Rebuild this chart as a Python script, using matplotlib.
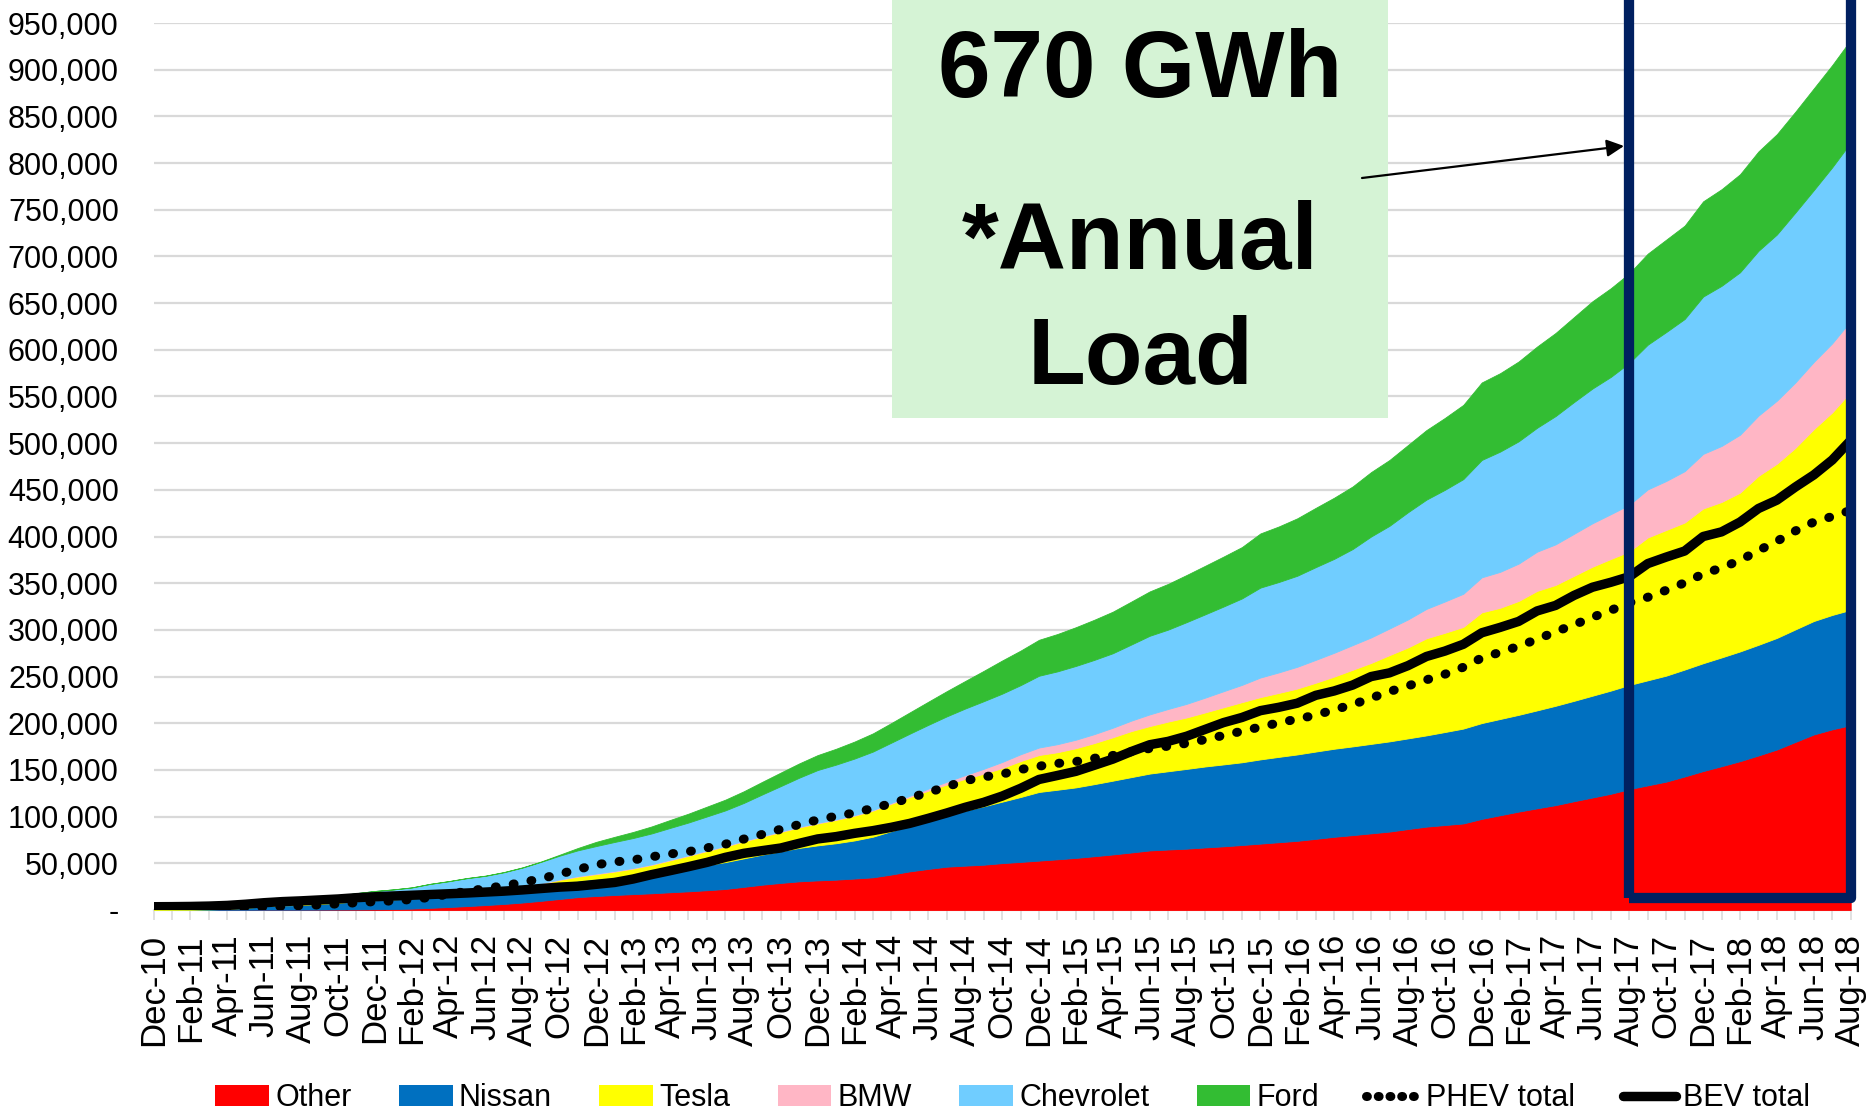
import numpy as np
import matplotlib
matplotlib.use("Agg")
import matplotlib.pyplot as plt
from matplotlib.patches import Rectangle, Patch, FancyArrowPatch
from matplotlib.lines import Line2D

plt.rcParams['font.family'] = ['Liberation Sans', 'DejaVu Sans']

# ---------------- data (vehicles, thousands) ----------------
months = ["Dec-10",
          "Jan-11", "Feb-11", "Mar-11", "Apr-11", "May-11", "Jun-11", "Jul-11", "Aug-11", "Sep-11", "Oct-11", "Nov-11", "Dec-11",
          "Jan-12", "Feb-12", "Mar-12", "Apr-12", "May-12", "Jun-12", "Jul-12", "Aug-12", "Sep-12", "Oct-12", "Nov-12", "Dec-12",
          "Jan-13", "Feb-13", "Mar-13", "Apr-13", "May-13", "Jun-13", "Jul-13", "Aug-13", "Sep-13", "Oct-13", "Nov-13", "Dec-13",
          "Jan-14", "Feb-14", "Mar-14", "Apr-14", "May-14", "Jun-14", "Jul-14", "Aug-14", "Sep-14", "Oct-14", "Nov-14", "Dec-14",
          "Jan-15", "Feb-15", "Mar-15", "Apr-15", "May-15", "Jun-15", "Jul-15", "Aug-15", "Sep-15", "Oct-15", "Nov-15", "Dec-15",
          "Jan-16", "Feb-16", "Mar-16", "Apr-16", "May-16", "Jun-16", "Jul-16", "Aug-16", "Sep-16", "Oct-16", "Nov-16", "Dec-16",
          "Jan-17", "Feb-17", "Mar-17", "Apr-17", "May-17", "Jun-17", "Jul-17", "Aug-17", "Sep-17", "Oct-17", "Nov-17", "Dec-17",
          "Jan-18", "Feb-18", "Mar-18", "Apr-18", "May-18", "Jun-18", "Jul-18", "Aug-18"]

other = [0.1, 0.1, 0.1, 0.2, 0.2, 0.2, 0.3, 0.3, 0.3, 0.4, 0.5,
         0.6, 0.8, 1.0, 1.5, 2.3, 3.2, 4.2, 5.3, 6.5, 8.0, 9.8, 11.8,
         13.8, 15.0, 16.1, 17.0, 17.9, 19.0, 20.0, 21.2, 22.5, 24.8, 27.1, 29.0, 30.7,
         31.7, 32.5, 33.7, 35.0, 38.0, 41.4, 44.0, 46.4, 47.5, 48.5, 50.2,
         51.5, 52.9, 54.3, 55.8, 57.6, 59.5, 61.6, 63.8, 64.8, 65.7, 67.0, 68.2, 69.6, 71.1, 72.6, 74.1, 76.2, 78.4, 80.2, 82.1, 84.0,
         86.7, 89.3, 91.0, 92.7, 97.6, 101.5, 105.4, 108.9, 112.3, 116.5, 120.5, 124.5,
         129.5, 133.5, 137.5, 143.0, 148.8, 154.0, 159.4, 165.5, 171.9, 180.0, 188.0, 193.5, 198.0]

nissan = [0.02, 0.1, 0.17, 0.47, 1.04, 2.06, 3.77, 4.7, 5.06, 6.13, 7.15, 8.82, 9.67, 10.35, 10.83, 11.41, 11.78, 12.29, 12.83, 13.22, 13.9, 14.9, 16.5,
          17.6, 18.4, 19.1, 20.0, 21.4, 23.2, 25.0, 27.0, 28.8, 30.5, 32.2, 34.0, 35.8,
          37.5, 39.0, 40.8, 43.5, 46.5, 49.0, 52.0, 55.0, 59.0, 62.5, 65.8,
          69.5, 73.5, 74.5, 75.5, 77.2, 79.0, 80.7, 82.3, 83.8, 85.4, 86.7, 87.7, 88.6, 90.2, 91.4, 92.5, 93.5, 94.3, 95.0, 95.8, 96.6,
          97.1, 97.7, 99.6, 101.6, 102.6, 103.1, 103.6, 104.9, 106.4, 107.5, 109.0, 110.5,
          111.5, 112.5, 113.5, 114.5, 115.5, 116.5, 117.5, 118.5, 119.5, 120.5, 121.5, 122.5, 123.5]

tesla = [1.6, 1.65, 1.7, 1.75, 1.8, 1.85, 1.9, 1.95, 2.0, 2.05, 2.1, 2.15, 2.2, 2.25, 2.3, 2.35, 2.4, 2.4, 2.5, 2.7, 3.0, 3.4, 3.9,
         4.3, 5.0, 6.0, 7.4, 9.0, 11.0, 13.0, 15.0, 16.7, 18.2, 19.3, 20.5, 22.0,
         23.5, 25.0, 26.5, 28.0, 29.3, 30.5, 31.8, 33.0, 34.0, 35.0, 36.0,
         38.5, 39.6, 40.2, 42.0, 44.0, 46.5, 49.3, 50.9, 53.2, 55.1, 57.9, 61.2, 64.4, 66.7, 68.5, 70.6, 73.7, 77.3, 82.1, 86.7, 92.4,
         97.4, 104.0, 106.3, 108.9, 118.6, 119.1, 122.0, 128.0, 129.4, 133.9, 138.2, 141.0,
         143.0, 153.0, 156.0, 157.5, 165.7, 166.5, 170.1, 181.0, 186.6, 194.5, 205.5, 217.0, 233.5]

bmw = [0, 0, 0, 0, 0, 0, 0, 0, 0, 0, 0, 0, 0,
       0.1, 0.2, 0.3, 0.3, 0.4, 0.4, 0.5, 0.5, 0.6, 0.6, 0.7,
       0.7, 0.7, 0.7, 0.7, 0.7, 0.7, 0.7, 0.7, 0.7, 0.7, 0.7, 0.7, 0.7, 0.7, 0.7, 0.7,
       1.0, 1.5, 2.2, 3.0, 4.0, 5.2, 6.5,
       7.3, 8.0, 8.6, 9.1, 9.6, 10.2, 11.2, 12.5, 13.5, 14.6, 15.8, 17.2, 18.5, 21.0, 22.0, 23.3, 24.5, 25.5, 26.4, 27.3, 28.5,
       30.0, 31.5, 33.5, 35.5, 37.5, 38.5, 40.0, 42.0, 43.5, 45.0, 46.5, 48.0,
       50.0, 51.5, 52.5, 55.0, 58.5, 60.0, 62.0, 64.5, 67.5, 70.0, 72.0, 74.0, 76.0]

chevrolet = [0.33, 0.65, 0.93, 1.54, 2.03, 2.51, 3.07, 3.2, 3.5, 4.2, 5.45, 6.5, 7.7, 8.3, 9.3, 11.6, 13.1, 14.8, 15.6, 17.5, 20.0, 22.8, 25.3,
             27.5, 29.4, 31.0, 32.0, 33.0, 34.0, 35.0, 36.3, 38.0, 40.5, 44.5, 48.5, 52.5,
             56.5, 58.5, 60.5, 62.5, 64.5, 66.5, 68.3, 70.0, 71.3, 72.4, 73.2,
             74.0, 76.9, 78.0, 79.0, 79.5, 79.8, 81.5, 84.2, 85.0, 87.5, 89.2, 90.7, 92.6, 96.3, 96.8, 97.5, 99.3, 100.6, 102.9, 108.1, 110.0,
             114.8, 117.0, 119.6, 122.8, 125.7, 128.8, 131.0, 132.7, 137.4, 141.1, 144.3, 147.0,
             152.0, 155.0, 159.5, 163.0, 168.5, 171.5, 174.0, 176.5, 178.0, 182.0, 184.0, 188.5, 191.0]

ford = [0, 0, 0, 0, 0, 0, 0, 0, 0, 0, 0, 0, 0,
        0.1, 0.1, 0.1, 0.2, 0.2, 0.2, 0.3, 0.3, 0.4,
        1.0, 2.5, 4.5, 5.5, 6.5, 7.5, 8.5, 9.5, 10.5, 11.5, 12.5, 13.5, 14.5, 15.3,
        16.0, 17.0, 18.2, 19.5, 21.0, 22.8, 24.8, 27.0, 29.5, 32.5, 35.5,
        37.0, 38.5, 40.0, 41.5, 43.0, 44.5, 46.0, 47.5, 49.0, 50.5, 52.0, 53.5, 55.0, 58.0, 59.5, 61.5, 63.5, 65.5, 67.0, 69.0, 70.5,
        72.0, 74.5, 77.0, 79.5, 83.0, 84.0, 85.5, 87.0, 89.0, 91.0, 93.5, 95.0,
        96.0, 97.5, 99.0, 100.0, 102.0, 103.5, 105.0, 106.5, 107.5, 108.0, 109.0, 109.5, 110.0]

phev_total = [0.3, 0.6, 0.9, 1.5, 2.0, 2.6, 3.3, 3.9, 4.7, 5.5, 6.6, 7.8, 9.0, 9.8, 11.3, 13.5, 17.0, 20.0, 23.0, 26.0, 29.5, 33.5, 38.5,
              43.5, 48.5, 51.5, 53.6, 57.0, 60.0, 62.5, 66.5, 70.5, 76.0, 81.0, 86.5, 91.5, 96.5, 100.5, 104.0, 109.0, 114.0, 120.0, 126.0, 132.0, 138.5, 142.5, 145.5,
              150.5, 154.0, 157.0, 159.0, 162.5, 165.5, 169.5, 173.0, 175.5, 178.5, 182.5, 187.0, 191.5, 196.0, 200.5, 204.5, 208.8, 214.5, 220.0, 227.0, 234.0,
              240.0, 246.5, 252.5, 260.0, 270.0, 276.0, 282.5, 290.0, 298.0, 305.5, 313.5, 321.0,
              329.0, 335.0, 342.5, 350.5, 360.0, 366.5, 374.5, 385.0, 395.0, 406.0, 415.5, 421.5, 428.0]

bev_total = [3.5, 3.6, 3.8, 4.2, 4.9, 6.2, 7.8, 9.0, 9.8, 10.8, 11.8, 13.2, 14.2, 15.0, 15.8, 16.6, 17.4, 18.2, 19.2, 20.2, 21.5, 23.0, 24.5,
             25.5, 27.5, 29.5, 33.2, 37.9, 42.1, 46.4, 51.0, 56.4, 60.7, 63.6, 66.4, 71.4, 76.1, 78.6, 82.1, 85.0, 88.6, 92.8, 98.2, 103.9, 110.0, 115.3, 122.0,
             130.3, 139.8, 144.1, 148.5, 155.0, 161.6, 169.7, 177.0, 180.6, 186.1, 193.4, 200.7, 206.2, 213.5, 217.1, 221.5, 229.9, 234.6, 240.9, 250.0, 254.0,
             261.7, 271.5, 277.3, 284.6, 296.9, 302.7, 309.1, 320.3, 326.2, 336.9, 345.7, 351.0,
             357.0, 371.0, 378.0, 384.5, 400.0, 405.0, 415.5, 430.0, 439.0, 453.0, 466.0, 482.0, 503.0]

series_names = ["Other", "Nissan", "Tesla", "BMW", "Chevrolet", "Ford"]
series_colors = ["#ff0000", "#0070c0", "#ffff00", "#ffb6c5", "#70cdff", "#33bd33"]

# ---------------- figure ----------------
W, H = 1868, 1115
fig = plt.figure(figsize=(W / 100, H / 100), dpi=100)

x0_px, x1_px = 153.5, 1850.7
y0_px, y1_px = 910, 23
ax = fig.add_axes([x0_px / W, 1 - y0_px / H, (x1_px - x0_px) / W, (y0_px - y1_px) / H])

x = np.arange(len(months))
stack = [np.array(s) * 1000 for s in (other, nissan, tesla, bmw, chevrolet, ford)]
ax.stackplot(x, *stack, colors=series_colors, labels=series_names,
             linewidth=0.6, edgecolor='face', zorder=2)

dot_lw = 6.5
dot_style = (0, (0.1, 1.9))
bev_lw = 6.8
ax.plot(x, np.array(phev_total) * 1000, color='black', lw=dot_lw, linestyle=dot_style,
        dash_capstyle='round', zorder=3)
ax.plot(x, np.array(bev_total) * 1000, color='black', lw=bev_lw, solid_joinstyle='round',
        solid_capstyle='butt', zorder=4)

ax.set_xlim(0, len(months) - 1)
ax.set_ylim(0, 950000)

yt = np.arange(0, 950001, 50000)
ax.set_yticks(yt)
ax.set_yticklabels(['-' if v == 0 else f'{v:,}' for v in yt])
ax.set_xticks(x)
ax.set_xticklabels([m if i % 2 == 0 else '' for i, m in enumerate(months)], rotation=90)

ax.yaxis.grid(True, color='#d9d9d9', lw=1.6)
ax.set_axisbelow(True)
for s in ('top', 'right', 'left'):
    ax.spines[s].set_visible(False)
ax.spines['bottom'].set_color('#d9d9d9')
ax.spines['bottom'].set_linewidth(1.6)
ax.spines['bottom'].set_zorder(1)

ax.tick_params(axis='x', length=7.2, width=1.1, color='#d9d9d9', pad=10, labelsize=25)
ax.tick_params(axis='y', length=0, pad=25, labelsize=22)

# navy highlight rectangle (Aug-17 .. Aug-18)
ax.add_patch(Rectangle((80, 13000), 12, 1500000, fill=False, edgecolor='#002060',
                       lw=7.4, joinstyle='round', clip_on=False, zorder=6))

# legend
handles = [Patch(facecolor=c, edgecolor='none') for c in series_colors]
handles += [Line2D([], [], color='black', lw=dot_lw, linestyle=(0, (0.1, 1.2)), dash_capstyle='round'),
            Line2D([], [], color='black', lw=bev_lw, solid_capstyle='round')]
labels = series_names + ["PHEV total", "BEV total"]
fig.legend(handles, labels, loc='center', bbox_to_anchor=(0.542, 0.0152), ncol=8,
           frameon=False, fontsize=22, handlelength=1.76, handleheight=0.65,
           handletextpad=0.2, columnspacing=1.55, borderpad=0, borderaxespad=0)

# annotation box
fig.patches.append(Rectangle((892 / W, 1 - 418 / H), (1388 - 892) / W, 418 / H,
                             transform=fig.transFigure, facecolor='#d5f3d5',
                             edgecolor='none', zorder=3))
cx = 1140 / W
for txt, base in (("670 GWh", 97), ("*Annual", 269), ("Load", 384)):
    fig.text(cx, 1 - base / H, txt, ha='center', va='baseline', fontsize=68,
             fontweight='bold', zorder=5)

arrow = FancyArrowPatch((1362 / W, 1 - 178 / H), (1624 / W, 1 - 146 / H),
                        transform=fig.transFigure, arrowstyle='-|>', mutation_scale=26,
                        lw=1.6, color='black', shrinkA=0, shrinkB=0, zorder=6)
fig.add_artist(arrow)

fig.savefig("out.png", dpi=100)
